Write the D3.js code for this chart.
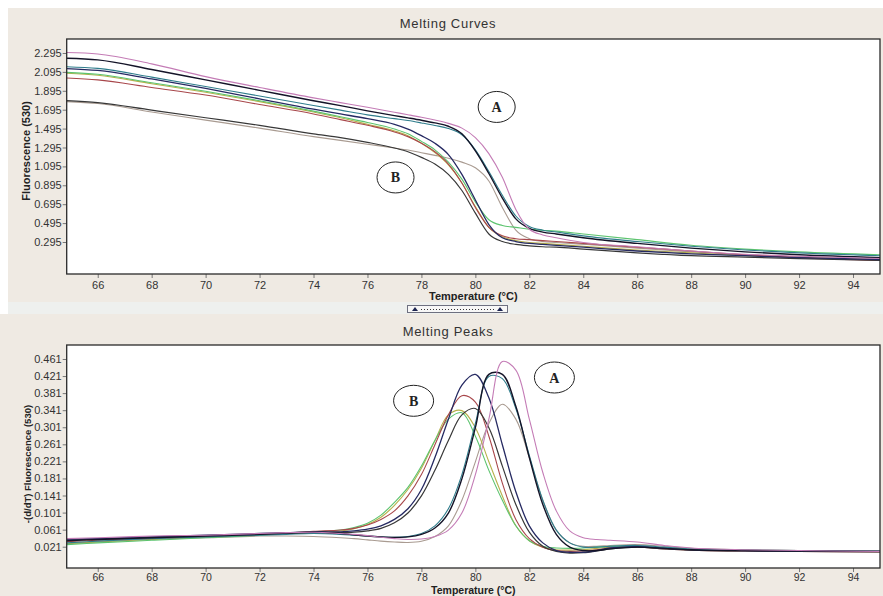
<!DOCTYPE html>
<html><head><meta charset="utf-8">
<script src="https://cdn.jsdelivr.net/npm/d3@7"></script>
<style>
html,body{margin:0;padding:0;background:#fff;}
svg{display:block;font-family:"Liberation Sans",Arial,sans-serif;}
</style></head><body>
<svg id="c" width="883" height="596"></svg>
<script>
// ---------- DATA ----------
const xTicks = [66, 68, 70, 72, 74, 76, 78, 80, 82, 84, 86, 88, 90, 92, 94];
const yTicksCurves = [2.295, 2.095, 1.895, 1.695, 1.495, 1.295, 1.095, 0.895, 0.695, 0.495, 0.295];
const yTicksPeaks = [0.461, 0.421, 0.381, 0.341, 0.301, 0.261, 0.221, 0.181, 0.141, 0.101, 0.061, 0.021];

const tempMelt = [64.85, 66, 68, 70, 72, 74, 75, 76, 77, 77.5, 78, 78.5, 79, 79.5, 80, 80.5, 81, 81.5, 82, 82.5, 83, 84, 86, 88, 90, 92, 95];
const meltPink   = [2.300, 2.285, 2.180, 2.045, 1.930, 1.820, 1.770, 1.720, 1.668, 1.642, 1.615, 1.585, 1.550, 1.500, 1.400, 1.230, 0.980, 0.640, 0.430, 0.370, 0.340, 0.290, 0.245, 0.200, 0.165, 0.145, 0.120];
const meltBlackA = [2.240, 2.222, 2.120, 2.010, 1.900, 1.790, 1.738, 1.683, 1.632, 1.608, 1.583, 1.555, 1.520, 1.440, 1.260, 1.020, 0.760, 0.540, 0.440, 0.400, 0.380, 0.340, 0.280, 0.230, 0.190, 0.160, 0.130];
const meltTealA  = [2.150, 2.132, 2.040, 1.940, 1.840, 1.740, 1.690, 1.640, 1.600, 1.580, 1.555, 1.528, 1.495, 1.430, 1.270, 1.040, 0.790, 0.570, 0.460, 0.420, 0.400, 0.360, 0.300, 0.250, 0.210, 0.180, 0.150];
const meltGreyA  = [1.780, 1.760, 1.670, 1.585, 1.500, 1.410, 1.370, 1.330, 1.290, 1.268, 1.240, 1.212, 1.182, 1.140, 1.080, 0.940, 0.660, 0.420, 0.330, 0.300, 0.290, 0.270, 0.230, 0.190, 0.160, 0.140, 0.110];
const meltNavyB  = [2.130, 2.110, 2.020, 1.920, 1.810, 1.700, 1.650, 1.600, 1.540, 1.490, 1.420, 1.340, 1.220, 1.010, 0.740, 0.480, 0.340, 0.300, 0.280, 0.270, 0.260, 0.240, 0.200, 0.170, 0.150, 0.130, 0.110];
const meltGreenB = [2.090, 2.070, 1.980, 1.890, 1.790, 1.680, 1.620, 1.560, 1.490, 1.440, 1.360, 1.270, 1.140, 0.960, 0.720, 0.530, 0.470, 0.450, 0.430, 0.420, 0.410, 0.380, 0.320, 0.260, 0.220, 0.190, 0.160];
const meltOliveB = [2.080, 2.060, 1.970, 1.880, 1.780, 1.670, 1.610, 1.540, 1.470, 1.420, 1.340, 1.240, 1.110, 0.920, 0.670, 0.450, 0.350, 0.310, 0.290, 0.280, 0.270, 0.250, 0.210, 0.180, 0.150, 0.130, 0.110];
const meltRedB   = [2.030, 2.010, 1.930, 1.850, 1.750, 1.650, 1.590, 1.530, 1.460, 1.410, 1.340, 1.250, 1.120, 0.920, 0.660, 0.450, 0.360, 0.330, 0.320, 0.310, 0.300, 0.280, 0.240, 0.200, 0.160, 0.130, 0.100];
const meltDarkB  = [1.790, 1.770, 1.690, 1.610, 1.530, 1.440, 1.400, 1.350, 1.290, 1.250, 1.190, 1.120, 1.010, 0.840, 0.600, 0.380, 0.300, 0.270, 0.255, 0.245, 0.240, 0.220, 0.180, 0.150, 0.135, 0.120, 0.100];

const tempPeak = [64.85, 66, 68, 70, 72, 73, 74, 75, 75.5, 76, 76.5, 77, 77.5, 78, 78.5, 79, 79.5, 80, 80.5, 81, 81.5, 82, 82.5, 83, 83.5, 84, 84.5, 85, 86, 87, 88, 90, 92, 95];
const peakPink   = [0.040, 0.042, 0.046, 0.048, 0.052, 0.054, 0.055, 0.052, 0.050, 0.047, 0.043, 0.040, 0.038, 0.039, 0.045, 0.060, 0.100, 0.190, 0.320, 0.455, 0.435, 0.320, 0.195, 0.105, 0.058, 0.042, 0.038, 0.036, 0.032, 0.024, 0.018, 0.014, 0.012, 0.010];
const peakBlackA = [0.035, 0.038, 0.042, 0.046, 0.050, 0.053, 0.055, 0.052, 0.049, 0.046, 0.044, 0.043, 0.044, 0.050, 0.065, 0.100, 0.180, 0.300, 0.425, 0.425, 0.350, 0.230, 0.120, 0.050, 0.020, 0.012, 0.012, 0.016, 0.020, 0.017, 0.014, 0.012, 0.011, 0.010];
const peakTealA  = [0.030, 0.034, 0.040, 0.044, 0.048, 0.050, 0.052, 0.050, 0.048, 0.046, 0.044, 0.043, 0.045, 0.052, 0.070, 0.110, 0.190, 0.310, 0.420, 0.415, 0.345, 0.235, 0.130, 0.060, 0.030, 0.020, 0.020, 0.022, 0.024, 0.020, 0.016, 0.013, 0.012, 0.011];
const peakGreyA  = [0.028, 0.032, 0.038, 0.042, 0.046, 0.046, 0.045, 0.042, 0.040, 0.037, 0.034, 0.032, 0.031, 0.034, 0.045, 0.070, 0.130, 0.220, 0.310, 0.355, 0.320, 0.230, 0.130, 0.060, 0.030, 0.022, 0.022, 0.024, 0.026, 0.022, 0.017, 0.014, 0.012, 0.011];
const peakNavyB  = [0.038, 0.040, 0.044, 0.048, 0.052, 0.054, 0.056, 0.056, 0.058, 0.062, 0.070, 0.085, 0.110, 0.155, 0.230, 0.320, 0.400, 0.425, 0.370, 0.260, 0.150, 0.070, 0.030, 0.012, 0.008, 0.008, 0.012, 0.018, 0.022, 0.018, 0.014, 0.012, 0.011, 0.010];
const peakGreenB = [0.026, 0.030, 0.036, 0.042, 0.048, 0.052, 0.056, 0.060, 0.066, 0.076, 0.095, 0.125, 0.160, 0.210, 0.270, 0.320, 0.335, 0.280, 0.200, 0.130, 0.070, 0.035, 0.022, 0.018, 0.017, 0.018, 0.020, 0.022, 0.022, 0.018, 0.015, 0.013, 0.012, 0.011];
const peakOliveB = [0.028, 0.032, 0.038, 0.044, 0.049, 0.052, 0.055, 0.058, 0.063, 0.073, 0.090, 0.118, 0.155, 0.205, 0.270, 0.330, 0.340, 0.300, 0.220, 0.140, 0.070, 0.035, 0.020, 0.014, 0.013, 0.014, 0.017, 0.020, 0.021, 0.017, 0.014, 0.012, 0.011, 0.010];
const peakRedB   = [0.033, 0.036, 0.041, 0.045, 0.050, 0.053, 0.057, 0.060, 0.064, 0.072, 0.085, 0.105, 0.140, 0.190, 0.260, 0.330, 0.375, 0.360, 0.280, 0.170, 0.085, 0.040, 0.020, 0.012, 0.010, 0.011, 0.014, 0.018, 0.020, 0.016, 0.013, 0.011, 0.010, 0.009];
const peakDarkB  = [0.036, 0.039, 0.043, 0.047, 0.050, 0.052, 0.054, 0.054, 0.055, 0.058, 0.064, 0.077, 0.100, 0.140, 0.200, 0.270, 0.330, 0.345, 0.300, 0.210, 0.120, 0.055, 0.022, 0.010, 0.006, 0.007, 0.011, 0.016, 0.020, 0.016, 0.013, 0.011, 0.010, 0.009];

const seriesKeys = ["greyA", "oliveB", "greenB", "redB", "darkB", "navyB", "tealA", "blackA", "pink"];
const meltSeries = {pink: meltPink, blackA: meltBlackA, tealA: meltTealA, greyA: meltGreyA, navyB: meltNavyB, greenB: meltGreenB, oliveB: meltOliveB, redB: meltRedB, darkB: meltDarkB};
const peakSeries = {pink: peakPink, blackA: peakBlackA, tealA: peakTealA, greyA: peakGreyA, navyB: peakNavyB, greenB: peakGreenB, oliveB: peakOliveB, redB: peakRedB, darkB: peakDarkB};

// annotation labels in data coordinates
const annotMelt = [{label: "A", t: 80.79, v: 1.724}, {label: "B", t: 77.04, v: 0.978}];
const annotPeak = [{label: "A", t: 82.93, v: 0.4176}, {label: "B", t: 77.71, v: 0.363}];

// ---------- STYLE ----------
const colors = {pink: "#c47cb6", blackA: "#141428", tealA: "#2f7d8c", greyA: "#a99b91", navyB: "#262a62", greenB: "#5dc46f", oliveB: "#b7b04c", redB: "#a8474b", darkB: "#383838"};
const widths = {blackA: 1.4, navyB: 1.3, darkB: 1.2};

// ---------- DRAW ----------
const svg = d3.select("#c");
svg.append("rect").attr("x", 0).attr("y", 0).attr("width", 883).attr("height", 596).attr("fill", "#efeae3");
svg.append("rect").attr("x", 0).attr("y", 0).attr("width", 883).attr("height", 8).attr("fill", "#ffffff");
svg.append("rect").attr("x", 0).attr("y", 0).attr("width", 8).attr("height", 314).attr("fill", "#ffffff");
svg.append("rect").attr("x", 8).attr("y", 302).attr("width", 875).attr("height", 12).attr("fill", "#eef0ee");

function panel(cfg) {
  const x = d3.scaleLinear().domain([64.85, 95]).range([cfg.left, cfg.right]);
  const y = d3.scaleLinear().domain(cfg.yDomain).range([cfg.bottom, cfg.top]);
  const g = svg.append("g");
  g.append("rect").attr("x", cfg.left).attr("y", cfg.top)
    .attr("width", cfg.right - cfg.left).attr("height", cfg.bottom - cfg.top).attr("fill", "#fff");

  const clipId = "clip" + cfg.id;
  g.append("clipPath").attr("id", clipId).append("rect")
    .attr("x", cfg.left).attr("y", cfg.top).attr("width", cfg.right - cfg.left).attr("height", cfg.bottom - cfg.top);

  const line = d3.line().x(d => x(d[0])).y(d => y(d[1])).curve(cfg.curve);
  const lg = g.append("g").attr("clip-path", `url(#${clipId})`);
  seriesKeys.forEach(k => {
    const vals = cfg.series[k];
    const pts = cfg.temps.map((t, i) => [t, vals[i]]);
    lg.append("path").attr("d", line(pts)).attr("fill", "none")
      .attr("stroke", colors[k]).attr("stroke-width", widths[k] || 1.1).attr("stroke-linejoin", "round");
  });

  const ya = g.append("g").attr("transform", `translate(${cfg.left},0)`)
    .call(d3.axisLeft(y).tickValues(cfg.yTicks).tickSize(4).tickPadding(1).tickFormat(d3.format(".3f")));
  const xa = g.append("g").attr("transform", `translate(0,${cfg.bottom})`)
    .call(d3.axisBottom(x).tickValues(xTicks).tickSize(4).tickPadding(cfg.xPad));
  [ya, xa].forEach(a => {
    a.select(".domain").remove();
    a.selectAll(".tick line").attr("stroke", "#777");
    a.selectAll(".tick text").attr("fill", "#333").style("font-size", "11px")
      .style("font-family", '"Liberation Sans",Arial,sans-serif');
  });
  xa.selectAll(".tick text").style("font-size", cfg.xFont);

  g.append("rect").attr("x", cfg.left).attr("y", cfg.top)
    .attr("width", cfg.right - cfg.left).attr("height", cfg.bottom - cfg.top)
    .attr("fill", "none").attr("stroke", "#2a2a2a").attr("stroke-width", 1.3);

  g.append("text").attr("x", 448).attr("y", cfg.titleY).attr("text-anchor", "middle")
    .attr("fill", "#333").style("font-size", "13px").style("letter-spacing", "0.7px").text(cfg.title);
  g.append("text").attr("x", (cfg.left + cfg.right) / 2).attr("y", cfg.xTitleY).attr("text-anchor", "middle")
    .attr("fill", "#222").style("font-size", cfg.xTitleFont).style("font-weight", "bold").text("Temperature (°C)");
  g.append("text").attr("transform", `translate(${cfg.yTitleX},${cfg.yTitleY}) rotate(-90)`)
    .attr("text-anchor", "middle").attr("fill", "#222").style("font-size", cfg.yTitleFont).style("font-weight", "bold")
    .text(cfg.yTitle);

  cfg.annot.forEach(a => {
    const ag = g.append("g").attr("transform", `translate(${x(a.t)},${y(a.v)})`);
    ag.append("ellipse").attr("rx", cfg.rx).attr("ry", cfg.ry).attr("fill", "#fff").attr("stroke", "#222").attr("stroke-width", 1);
    ag.append("text").attr("text-anchor", "middle").attr("dy", "0.36em").attr("fill", "#222")
      .style("font-family", '"Liberation Serif","Times New Roman",serif').style("font-weight", "bold").style("font-size", "14px")
      .text(a.label);
  });
}

panel({id: 1, left: 66.7, right: 880, top: 39, bottom: 274, yDomain: [-0.0436, 2.443],
  yTicks: yTicksCurves, temps: tempMelt, series: meltSeries, curve: d3.curveMonotoneX,
  xPad: 3, xFont: "11px", xTitleFont: "11px",
  title: "Melting Curves", titleY: 28, xTitleY: 300, yTitle: "Fluorescence (530)", yTitleFont: "11px", yTitleX: 30, yTitleY: 151,
  annot: annotMelt, rx: 18.5, ry: 15.5});

panel({id: 2, left: 66.7, right: 880, top: 345, bottom: 568, yDomain: [-0.0289, 0.4938],
  yTicks: yTicksPeaks, temps: tempPeak, series: peakSeries, curve: d3.curveCatmullRom.alpha(0.5),
  xPad: 2, xFont: "10.5px", xTitleFont: "10.5px",
  title: "Melting Peaks", titleY: 336, xTitleY: 594, yTitle: "-(d/dT) Fluorescence (530)", yTitleFont: "9.5px", yTitleX: 30.5, yTitleY: 464,
  annot: annotPeak, rx: 20, ry: 15.5});

const sp = svg.append("g");
sp.append("rect").attr("x", 407.5).attr("y", 305.5).attr("width", 100).attr("height", 7)
  .attr("fill", "#f7f7f7").attr("stroke", "#6e7080").attr("stroke-width", 1);
sp.append("line").attr("x1", 421).attr("x2", 494).attr("y1", 309.5).attr("y2", 309.5)
  .attr("stroke", "#333").attr("stroke-width", 1).attr("stroke-dasharray", "1,2");
[415, 500].forEach(cx => {
  sp.append("path").attr("d", `M${cx - 3},311 L${cx + 3},311 L${cx},307 Z`).attr("fill", "#1c2450");
});
</script>
</body></html>
